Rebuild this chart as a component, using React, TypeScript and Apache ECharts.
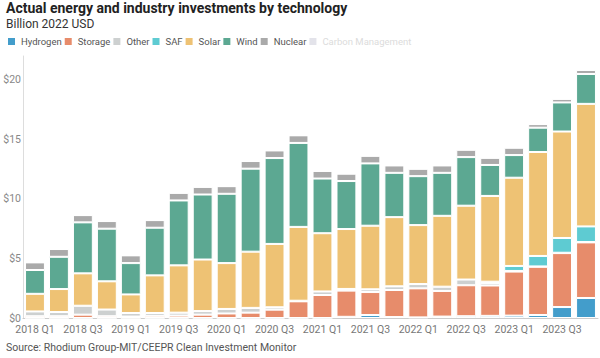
import React, { useEffect, useRef } from "react";
import * as echarts from "echarts";

const quarters = [
  "2018 Q1", "2018 Q2", "2018 Q3", "2018 Q4",
  "2019 Q1", "2019 Q2", "2019 Q3", "2019 Q4",
  "2020 Q1", "2020 Q2", "2020 Q3", "2020 Q4",
  "2021 Q1", "2021 Q2", "2021 Q3", "2021 Q4",
  "2022 Q1", "2022 Q2", "2022 Q3", "2022 Q4",
  "2023 Q1", "2023 Q2", "2023 Q3", "2023 Q4",
];

const hydrogen = [0, 0, 0, 0, 0, 0, 0, 0, 0, 0, 0, 0, 0, 0.1, 0.25, 0.08, 0.05, 0.12, 0.15, 0.18, 0.2, 0.25, 0.92, 1.68];
const storage = [0.15, 0.15, 0.28, 0.15, 0.12, 0.18, 0.2, 0.28, 0.38, 0.45, 0.7, 1.4, 1.93, 2.2, 1.93, 2.27, 2.44, 2.15, 2.6, 2.55, 3.7, 4.05, 4.53, 4.67];
const other = [0.4, 0.35, 0.75, 0.56, 0.3, 0.24, 0.25, 0.3, 0.38, 0.4, 0.2, 0.05, 0.3, 0.14, 0.23, 0.31, 0.36, 0.36, 0.48, 0.2, 0.05, 0.03, 0.03, 0.03];
const saf = [0, 0, 0, 0, 0, 0, 0, 0, 0, 0, 0, 0, 0, 0, 0, 0, 0, 0, 0, 0.12, 0.42, 0.88, 1.24, 1.31];
const solar = [1.48, 1.93, 2.72, 2.37, 1.56, 3.16, 3.97, 4.33, 3.85, 4.72, 5.32, 6.2, 4.89, 5.03, 5.34, 5.81, 4.95, 5.95, 6.2, 7.2, 7.41, 8.73, 8.94, 10.29];
const wind = [2.0, 2.71, 4.28, 4.42, 2.63, 4.0, 5.45, 5.46, 5.82, 6.97, 7.21, 7.05, 4.59, 4.03, 5.23, 3.72, 4.11, 3.61, 4.08, 2.6, 1.9, 2.04, 2.44, 2.51];
const nuclear = [0.64, 0.65, 0.61, 0.64, 0.65, 0.64, 0.64, 0.64, 0.64, 0.64, 0.64, 0.64, 0.64, 0.62, 0.64, 0.62, 0.62, 0.62, 0.62, 0.6, 0.62, 0.3, 0.3, 0.34];
const carbonManagement = [0, 0, 0, 0, 0, 0, 0, 0, 0, 0, 0, 0, 0, 0, 0, 0, 0, 0, 0, 0, 0, 0, 0, 0];

const yTicks = [0, 5, 10, 15, 20];

const seriesDefs = [
  { name: "Hydrogen", data: hydrogen, color: "#439dcb" },
  { name: "Storage", data: storage, color: "#e78c6b" },
  { name: "Other", data: other, color: "#cdd0d0" },
  { name: "SAF", data: saf, color: "#5ecbd2" },
  { name: "Solar", data: solar, color: "#eec274" },
  { name: "Wind", data: wind, color: "#5ca892" },
  { name: "Nuclear", data: nuclear, color: "#aaaaaa" },
  { name: "Carbon Management", data: carbonManagement, color: "#e3e3ea" },
];

export default function App() {
  const ref = useRef<HTMLDivElement>(null);
  useEffect(() => {
    document.body.style.margin = "0";
    if (!ref.current) return;
    const chart = echarts.init(ref.current, null, { renderer: "svg" });
    const font = "Roboto, 'Noto Sans', sans-serif";
    chart.setOption({
      animation: false,
      textStyle: { fontFamily: font },
      title: [
        {
          text: "Actual energy and industry investments by technology",
          left: 6,
          top: 1,
          padding: 0,
          textStyle: { fontSize: 14, fontWeight: "bold", color: "#222", fontFamily: font },
        },
        {
          text: "Billion 2022 USD",
          left: 6,
          top: 18,
          padding: 0,
          textStyle: { fontSize: 12, fontWeight: "normal", color: "#333", fontFamily: font },
        },
        {
          text: "Source: Rhodium Group-MIT/CEEPR Clean Investment Monitor",
          left: 6,
          top: 342,
          padding: 0,
          textStyle: { fontSize: 10.5, fontWeight: "normal", color: "#555", fontFamily: font },
        },
      ],
      legend: {
        left: 6,
        top: 36,
        padding: 0,
        itemWidth: 9,
        itemHeight: 9,
        itemGap: 1,
        icon: "rect",
        selectedMode: false,
        textStyle: { fontSize: 9.5, color: "#555", fontFamily: font },
        data: seriesDefs.map((s) =>
          s.name === "Carbon Management"
            ? { name: s.name, textStyle: { color: "#dcdcdc" } }
            : { name: s.name }
        ),
      },
      grid: { left: 23, right: 2, top: 56, bottom: 40, containLabel: false },
      xAxis: {
        type: "category",
        data: quarters,
        axisLine: { lineStyle: { color: "#cccccc" } },
        axisTick: { show: false },
        axisLabel: { interval: 1, color: "#777", fontSize: 10.5, margin: 6, fontFamily: font },
      },
      yAxis: {
        type: "value",
        min: 0,
        max: 22,
        interval: 5,
        axisLine: { show: true, lineStyle: { color: "#dddddd" } },
        axisTick: { show: false },
        splitLine: { show: false },
        axisLabel: {
          showMaxLabel: false,
          color: "#888",
          fontSize: 10.5,
          margin: 2,
          fontFamily: font,
          formatter: (v: number) => (yTicks.includes(v) ? "$" + v : ""),
        },
      },
      series: seriesDefs.map((s) => ({
        name: s.name,
        type: "bar",
        stack: "total",
        data: s.data,
        barCategoryGap: "17%",
        itemStyle: { color: s.color, borderColor: "#ffffff", borderWidth: 1 },
      })),
    });
    return () => chart.dispose();
  }, []);
  return <div ref={ref} style={{ width: 600, height: 358 }} />;
}
